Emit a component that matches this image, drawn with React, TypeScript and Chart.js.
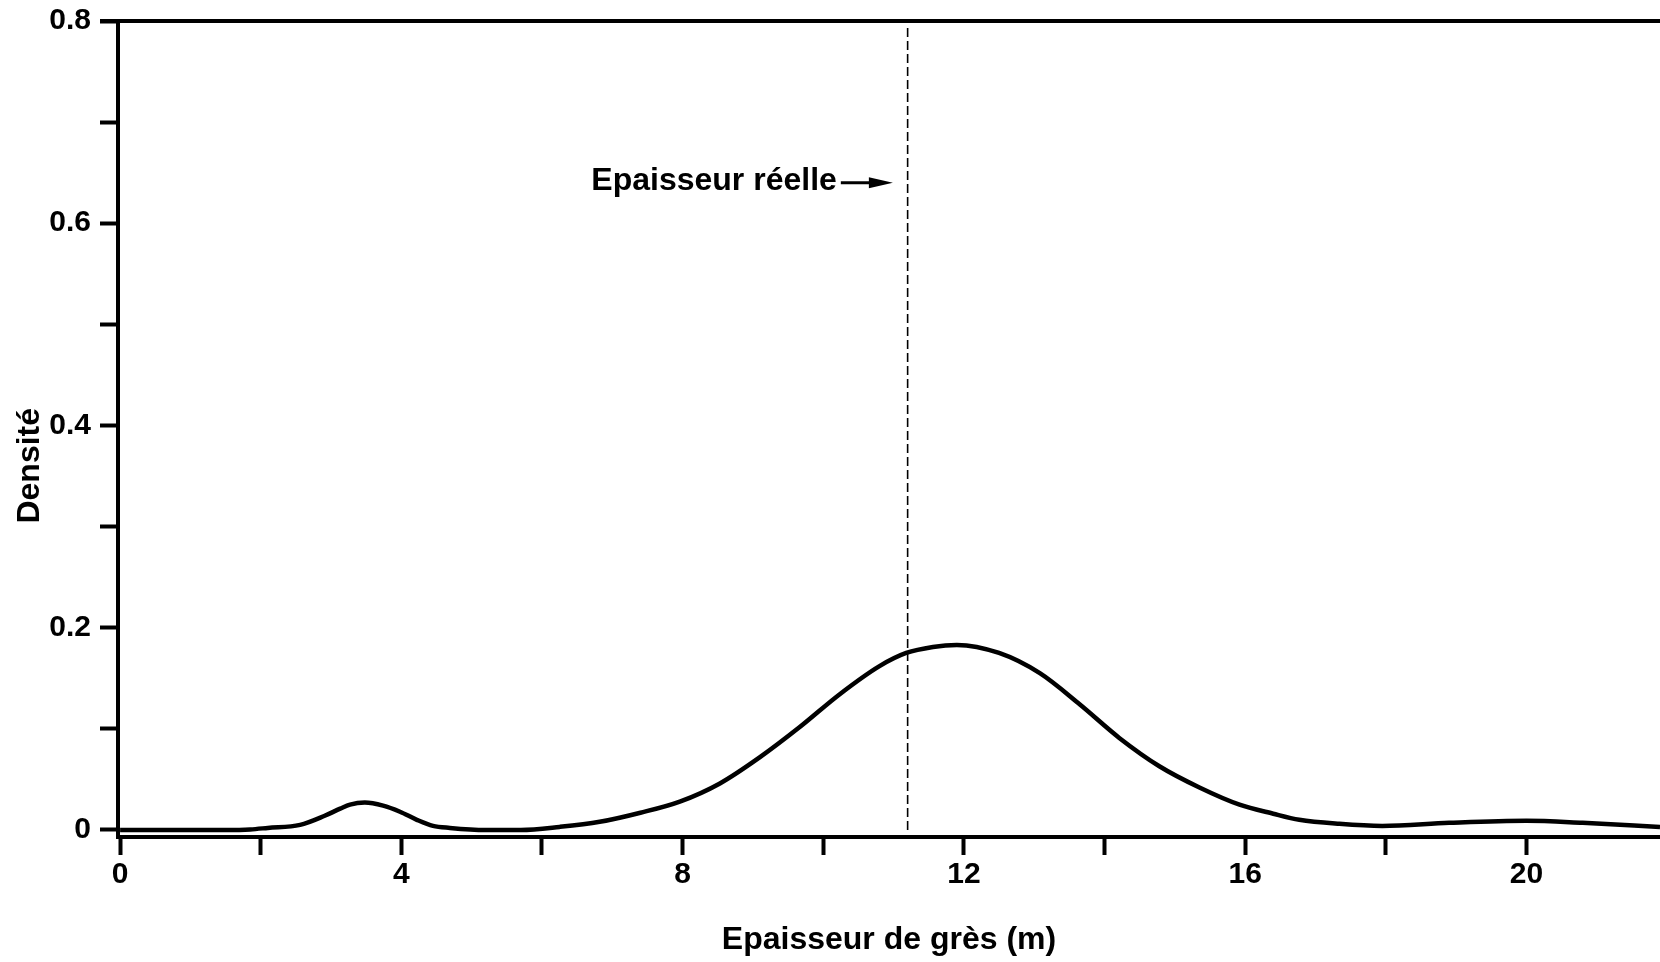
import React, { useEffect, useRef } from "react";
import { Chart, registerables } from "chart.js";

Chart.register(...registerables);

// Density curve (thickness in m -> density)
const thicknessX = [
  0, 0.5, 1.0, 1.5, 1.85, 2.1, 2.56, 2.91, 3.13, 3.27, 3.48, 3.74, 3.98, 4.22, 4.45, 4.69, 5.2, 5.7,
  6.25, 6.82, 7.4, 7.96, 8.53, 9.1, 9.67, 10.23, 10.8, 11.18, 11.56, 11.9, 12.5, 13.08,
  13.65, 14.21, 14.78, 15.35, 15.92, 16.4, 16.77, 17.34, 17.95, 18.9, 20.0, 20.8, 21.9,
];
const densityY = [
  0, 0, 0, 0, 0.0005, 0.002, 0.005, 0.014, 0.021, 0.025, 0.027, 0.024, 0.018, 0.01, 0.004, 0.002, 0.0, 0.0,
  0.003, 0.008, 0.017, 0.028, 0.046, 0.072, 0.102, 0.134, 0.162, 0.175, 0.181, 0.183, 0.175, 0.155,
  0.124, 0.091, 0.063, 0.042, 0.025, 0.016, 0.01, 0.006, 0.004, 0.007, 0.009, 0.007, 0.003,
];

// True thickness marker
const trueThickness = 11.2;
const trueThicknessTop = 0.793;
const annotationLabel = "Epaisseur réelle";
const arrowStartX = 10.25;
const arrowEndX = 10.99;
const arrowY = 0.64;

// Axes
const xTickValues = [0, 2, 4, 6, 8, 10, 12, 14, 16, 18, 20];
const xTickLabels = ["0", "", "4", "", "8", "", "12", "", "16", "", "20"];
const yTickValues = [0, 0.1, 0.2, 0.3, 0.4, 0.5, 0.6, 0.7, 0.8];
const yTickLabels = ["0", "", "0.2", "", "0.4", "", "0.6", "", "0.8"];
const xTitle = "Epaisseur de grès (m)";
const yTitle = "Densité";

const FONT = "'Liberation Sans', Arial, Helvetica, sans-serif";

export default function App() {
  const canvasRef = useRef<HTMLCanvasElement | null>(null);

  useEffect(() => {
    document.body.style.margin = "0";
    const canvas = canvasRef.current;
    if (!canvas) return;

    const overlay = {
      id: "overlay",
      afterDraw(chart: any) {
        const { ctx, chartArea, scales } = chart;
        const xs = scales.x;
        const ys = scales.y;
        ctx.save();
        // top frame line
        ctx.strokeStyle = "#000";
        ctx.lineWidth = 4;
        ctx.beginPath();
        ctx.moveTo(chartArea.left - 18, chartArea.top);
        ctx.lineTo(chartArea.right, chartArea.top);
        ctx.stroke();

        // y axis title (rotated)
        ctx.save();
        ctx.translate(30, (ys.getPixelForValue(0.4) + ys.getPixelForValue(0.35)) / 2 + 15);
        ctx.rotate(-Math.PI / 2);
        ctx.fillStyle = "#000";
        ctx.font = `bold 32px ${FONT}`;
        ctx.textAlign = "center";
        ctx.textBaseline = "middle";
        ctx.fillText(yTitle, 0, 0);
        ctx.restore();

        // annotation text + arrow
        const ax0 = xs.getPixelForValue(arrowStartX);
        const ax1 = xs.getPixelForValue(arrowEndX);
        const ay = ys.getPixelForValue(arrowY);
        ctx.fillStyle = "#000";
        ctx.font = `bold 32px ${FONT}`;
        ctx.textAlign = "right";
        ctx.textBaseline = "middle";
        ctx.fillText(annotationLabel, ax0 - 4, ay - 2);
        ctx.lineWidth = 3;
        ctx.beginPath();
        ctx.moveTo(ax0, ay);
        ctx.lineTo(ax1 - 18, ay);
        ctx.stroke();
        ctx.beginPath();
        ctx.moveTo(ax1, ay);
        ctx.lineTo(ax1 - 24, ay - 5.5);
        ctx.lineTo(ax1 - 24, ay + 5.5);
        ctx.closePath();
        ctx.fill();
        ctx.restore();
      },
    };

    const tickFont = { family: FONT, size: 30, weight: "bold" as const };
    const titleFont = { family: FONT, size: 32, weight: "bold" as const };

    const chart = new Chart(canvas, {
      type: "line",
      data: {
        datasets: [
          {
            data: thicknessX.map((x, i) => ({ x, y: densityY[i] })),
            borderColor: "#000",
            borderWidth: 4.5,
            pointRadius: 0,
            cubicInterpolationMode: "monotone",
            fill: false,
          },
          {
            data: [
              { x: trueThickness, y: 0 },
              { x: trueThickness, y: trueThicknessTop },
            ],
            borderColor: "#000",
            borderWidth: 1.6,
            borderDash: [9, 4],
            pointRadius: 0,
            fill: false,
          },
        ],
      },
      options: {
        animation: false,
        responsive: false,
        devicePixelRatio: 1,
        layout: { padding: { top: 21, left: 0, right: 0, bottom: 0 } },
        plugins: {
          legend: { display: false },
          tooltip: { enabled: false },
        },
        scales: {
          x: {
            type: "linear",
            min: -0.03,
            max: 21.9,
            afterFit: (s: any) => {
              s.height = 962 - 837;
              s.paddingLeft = 0;
              s.paddingRight = 0;
            },
            afterBuildTicks: (s: any) => {
              s.ticks = xTickValues.map((v) => ({ value: v }));
            },
            border: { display: true, color: "#000", width: 4 },
            grid: {
              drawOnChartArea: false,
              drawTicks: true,
              tickLength: 18,
              tickWidth: 4,
              tickColor: "#000",
            },
            ticks: {
              color: "#000",
              font: tickFont,
              padding: 2,
              maxRotation: 0,
              autoSkip: false,
              callback: (_v: any, i: number) => xTickLabels[i],
            },
            title: {
              display: true,
              text: xTitle,
              color: "#000",
              font: titleFont,
              padding: { top: 0, bottom: 3 },
            },
          },
          y: {
            type: "linear",
            min: -0.007,
            max: 0.8,
            afterFit: (s: any) => {
              s.width = 118;
              s.paddingTop = 0;
              s.paddingBottom = 0;
            },
            afterBuildTicks: (s: any) => {
              s.ticks = yTickValues.map((v) => ({ value: v }));
            },
            border: { display: true, color: "#000", width: 4 },
            grid: {
              drawOnChartArea: false,
              drawTicks: true,
              tickLength: 18,
              tickWidth: 4,
              tickColor: "#000",
            },
            ticks: {
              color: "#000",
              font: tickFont,
              padding: 9,
              autoSkip: false,
              callback: (_v: any, i: number) => yTickLabels[i],
            },
            title: { display: false },
          },
        },
      },
      plugins: [overlay],
    });

    return () => chart.destroy();
  }, []);

  return (
    <div style={{ width: 1660, height: 962, background: "#fff" }}>
      <canvas ref={canvasRef} width={1660} height={962} style={{ display: "block" }} />
    </div>
  );
}
